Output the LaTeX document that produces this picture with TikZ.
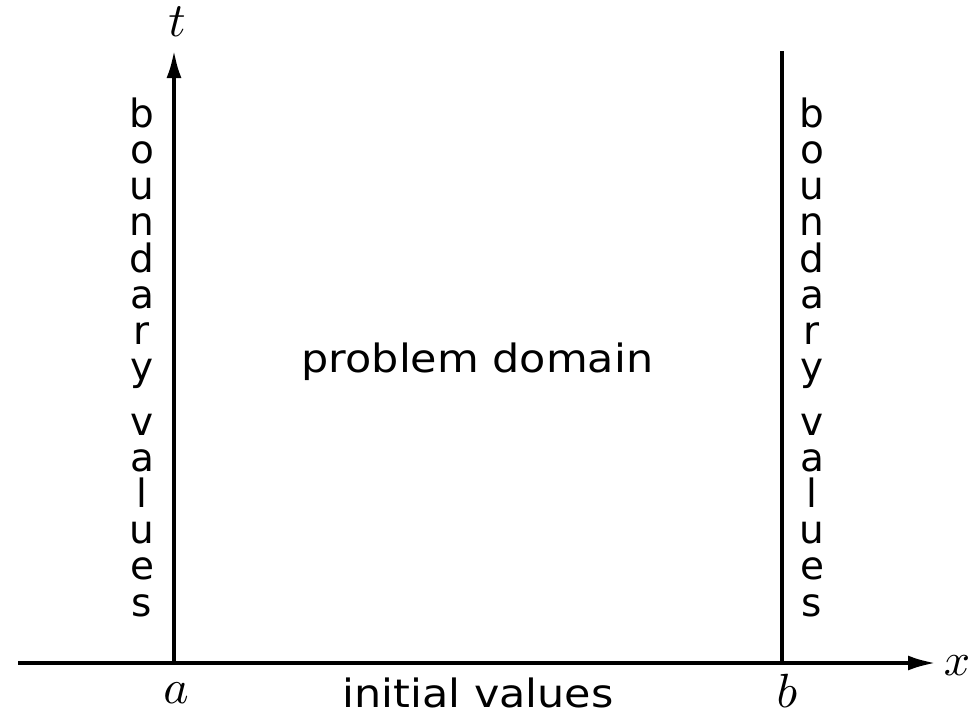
\documentclass[tikz,border=0pt]{standalone}
\usepackage{fontspec}
\usepackage{graphicx}
\usetikzlibrary{arrows.meta}
\newfontfamily\labelfont{DejaVu Sans}
\tikzset{
  axisline/.style={line width=4pt},
  axisarrow/.style={line width=4pt,-{Latex[length=28pt,width=15pt]}},
  txt/.style={inner sep=0pt,anchor=base,font=\labelfont\fontsize{39}{46}\selectfont},
  letter/.style={inner sep=0pt,anchor=base,font=\labelfont\fontsize{39}{46}\selectfont},
  mathlbl/.style={inner sep=0pt}
}
\begin{document}
\begin{tikzpicture}[x=1pt,y=1pt]
\useasboundingbox (0,0) rectangle (969,-712);
\coordinate (O) at (174,-663);
\coordinate (xstart) at (18,-663);
\coordinate (xend) at (936,-663);
\coordinate (tend) at (174,-50);
\coordinate (bbot) at (782,-663);
\coordinate (btop) at (782,-51);
\draw[axisarrow] (xstart) -- (xend);
\draw[axisarrow] (O) -- (tend);
\draw[axisline] (bbot) -- (btop);
\node[mathlbl] (tlbl) at (177,-22) {\scalebox{4.8}{$t$}};
\node[mathlbl] (xlbl) at (957,-666) {\scalebox{4.6}{$x$}};
\node[mathlbl] (albl) at (176,-693) {\scalebox{4.8}{$a$}};
\node[mathlbl] (blbl) at (787,-691) {\scalebox{4.8}{$b$}};
\node[txt] (pd) at (477.5,-372) {\scalebox{1.1}[1]{problem domain}};
\node[txt] (iv) at (478,-707) {\scalebox{1.1}[1]{initial values}};
\foreach \ch [count=\i] in {b,o,u,n,d,a,r,y} {
  \node[letter] (Lb\i) at (142,{-127-36.25*(\i-1)}) {\ch};
  \node[letter] (Rb\i) at (812,{-127-36.25*(\i-1)}) {\ch};
}
\foreach \ch [count=\i] in {v,a,l,u,e,s} {
  \node[letter] (Lv\i) at (142,{-435.5-36.1*(\i-1)}) {\ch};
  \node[letter] (Rv\i) at (812,{-435.5-36.1*(\i-1)}) {\ch};
}
\end{tikzpicture}
\end{document}
